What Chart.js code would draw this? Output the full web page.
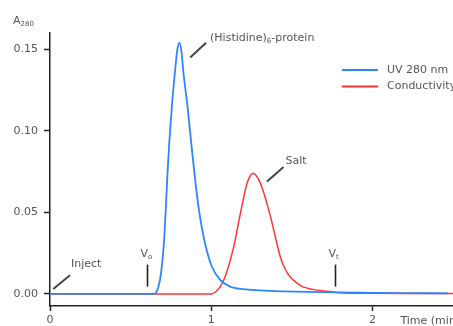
<!DOCTYPE html>
<html>
<head>
<meta charset="utf-8">
<script src="https://cdn.jsdelivr.net/npm/chart.js@4.4.0/dist/chart.umd.min.js"></script>
<style>
  html, body { margin: 0; padding: 0; background: #ffffff; }
  #wrap { width: 453px; height: 326px; }
</style>
</head>
<body>
<div id="wrap"><canvas id="c" width="453" height="326"></canvas></div>
<script>
// ---- data ----
const uvTime = [0, 0.2, 0.4, 0.6, 0.645, 0.66, 0.673, 0.689, 0.708, 0.719, 0.729, 0.741, 0.756, 0.776, 0.79, 0.803, 0.815, 0.828, 0.853, 0.874, 0.896, 0.921, 0.957, 1.004, 1.056, 1.118, 1.199, 1.3, 1.45, 1.6, 1.8, 2.0, 2.2, 2.47];
const uvValues = [0, 0, 0, 0, 0, 0.0012, 0.0045, 0.0129, 0.0331, 0.0536, 0.0741, 0.0945, 0.115, 0.137, 0.150, 0.154, 0.149, 0.1354, 0.115, 0.0945, 0.0741, 0.0536, 0.0331, 0.0168, 0.0086, 0.0045, 0.0029, 0.0022, 0.0016, 0.0012, 0.0009, 0.0007, 0.0005, 0.0004];

const condTime = [0, 0.3, 0.6, 0.9, 1.0, 1.03, 1.056, 1.08, 1.107, 1.13, 1.149, 1.17, 1.19, 1.21, 1.23, 1.26, 1.28, 1.30, 1.323, 1.35, 1.379, 1.405, 1.429, 1.46, 1.49, 1.53, 1.57, 1.63, 1.70, 1.8, 2.0, 2.2, 2.5];
const condValues = [0, 0, 0, 0, 0, 0.0015, 0.0045, 0.009, 0.0168, 0.025, 0.0331, 0.044, 0.0536, 0.063, 0.070, 0.074, 0.0725, 0.069, 0.063, 0.054, 0.043, 0.032, 0.0227, 0.015, 0.0104, 0.0068, 0.0043, 0.0028, 0.0018, 0.0008, 0.0004, 0.0003, 0.0003];

const seriesNames = ['UV 280 nm', 'Conductivity'];
const xTickValues = [0, 1, 2];
const yTickValues = [0, 0.05, 0.10, 0.15];

// annotation labels and their anchor points (data coordinates)
const peakLabels = ['(Histidine)', 'Salt', 'Inject'];
const peakLeaderFrom = [[0.87, 0.145], [1.346, 0.069], [0.02, 0.003]];
const peakLeaderTo   = [[0.968, 0.154], [1.449, 0.0778], [0.124, 0.0115]];
const markerLabels = ['o', 't'];          // subscripts of V
const markerTimes = [0.60, 1.77];
// -------------------------------------

const FONT = '"DejaVu Sans", sans-serif';
const TXT = '#555555';
const AX = '#222222';
const BLUE = '#2e86ff';
const RED = '#ff3535';

function pts(xs, ys) { return xs.map((x, i) => ({ x: x, y: ys[i] })); }

const annot = {
  id: 'annot',
  afterDatasetsDraw(chart) {
    const ctx = chart.ctx;
    const xs = chart.scales.x, ys = chart.scales.y;
    const px = v => xs.getPixelForValue(v);
    const py = v => ys.getPixelForValue(v);
    ctx.save();
    // leader lines
    ctx.strokeStyle = '#444444';
    ctx.lineWidth = 2;
    ctx.lineCap = 'butt';
    peakLeaderFrom.forEach((f, i) => {
      const t = peakLeaderTo[i];
      ctx.beginPath();
      ctx.moveTo(px(f[0]), py(f[1]));
      ctx.lineTo(px(t[0]), py(t[1]));
      ctx.stroke();
    });
    ctx.fillStyle = TXT;
    ctx.textBaseline = 'alphabetic';
    ctx.textAlign = 'left';
    // (Histidine)6-protein
    let t0 = peakLeaderTo[0];
    let x = px(t0[0]) + 4, y = py(t0[1]) - 2;
    ctx.font = '11px ' + FONT;
    ctx.fillText(peakLabels[0], x, y);
    x += ctx.measureText(peakLabels[0]).width;
    ctx.font = '7px ' + FONT;
    ctx.fillText('6', x, y + 2);
    x += ctx.measureText('6').width;
    ctx.font = '11px ' + FONT;
    ctx.fillText('-protein', x, y);
    // Salt
    let t1 = peakLeaderTo[1];
    ctx.fillText(peakLabels[1], px(t1[0]) + 2, py(t1[1]) - 3);
    // Inject
    let t2 = peakLeaderTo[2];
    ctx.fillText(peakLabels[2], px(t2[0]) + 1, py(t2[1]) - 8);
    // V markers
    ctx.strokeStyle = '#222222';
    ctx.lineWidth = 1.6;
    markerTimes.forEach((tm, i) => {
      const mx = Math.round(px(tm)) + 0.5;
      ctx.beginPath();
      ctx.moveTo(mx, py(0.0045));
      ctx.lineTo(mx, py(0.018));
      ctx.stroke();
      ctx.font = '11px ' + FONT;
      const vx = mx - 7;
      const vy = py(0.018) - 8;
      ctx.fillText('V', vx, vy);
      const w = ctx.measureText('V').width;
      ctx.font = '7px ' + FONT;
      ctx.fillText(markerLabels[i], vx + w, vy + 2);
    });
    // legend
    const lx = 342, ly = 70;
    [BLUE, RED].forEach((c, i) => {
      ctx.strokeStyle = c;
      ctx.lineWidth = 2;
      ctx.beginPath();
      ctx.moveTo(lx, ly + i * 16.5);
      ctx.lineTo(lx + 36, ly + i * 16.5);
      ctx.stroke();
      ctx.fillStyle = TXT;
      ctx.font = '11px ' + FONT;
      ctx.textBaseline = 'middle';
      ctx.fillText(seriesNames[i], lx + 45, ly + i * 16.5);
    });
    // axis titles
    ctx.textBaseline = 'alphabetic';
    ctx.font = '11px ' + FONT;
    ctx.fillText('A', 13, 24);
    const aw = ctx.measureText('A').width;
    ctx.font = '7px ' + FONT;
    ctx.fillText('280', 13 + aw, 26);
    ctx.font = '11px ' + FONT;
    ctx.textBaseline = 'middle';
    ctx.fillText('Time (min)', px(2) + 28, 321);
    ctx.restore();
  }
};

new Chart(document.getElementById('c'), {
  type: 'line',
  data: {
    datasets: [
      { label: seriesNames[0], data: pts(uvTime, uvValues), borderColor: BLUE, borderWidth: 1.8,
        pointRadius: 0, fill: false, cubicInterpolationMode: 'monotone' },
      { label: seriesNames[1], data: pts(condTime, condValues), borderColor: RED, borderWidth: 1.5,
        pointRadius: 0, fill: false, cubicInterpolationMode: 'monotone' }
    ]
  },
  options: {
    responsive: false,
    animation: false,
    devicePixelRatio: 1,
    layout: { padding: { top: 33, left: 0, right: 0, bottom: 0 } },
    plugins: { legend: { display: false }, tooltip: { enabled: false } },
    scales: {
      x: {
        type: 'linear', min: 0, max: 2.5,
        afterBuildTicks: s => { s.ticks = xTickValues.map(v => ({ value: v })); },
        afterFit: s => { s.height = 20; },
        grid: { drawOnChartArea: false, drawTicks: true, tickLength: 5, color: AX, tickWidth: 1.5 },
        border: { display: true, color: AX, width: 1.5 },
        ticks: { color: TXT, font: { family: FONT, size: 11 }, padding: 3, maxRotation: 0,
                 callback: v => String(v) }
      },
      y: {
        type: 'linear', min: -0.0074, max: 0.160,
        afterBuildTicks: s => { s.ticks = yTickValues.map(v => ({ value: v })); },
        afterFit: s => { s.width = 50; },
        grid: { drawOnChartArea: false, drawTicks: true, tickLength: 6, color: AX, tickWidth: 1.5 },
        border: { display: true, color: AX, width: 1.5 },
        ticks: { color: TXT, font: { family: FONT, size: 11 }, padding: 6,
                 callback: v => Number(v).toFixed(2) }
      }
    }
  },
  plugins: [annot]
});
</script>
</body>
</html>
